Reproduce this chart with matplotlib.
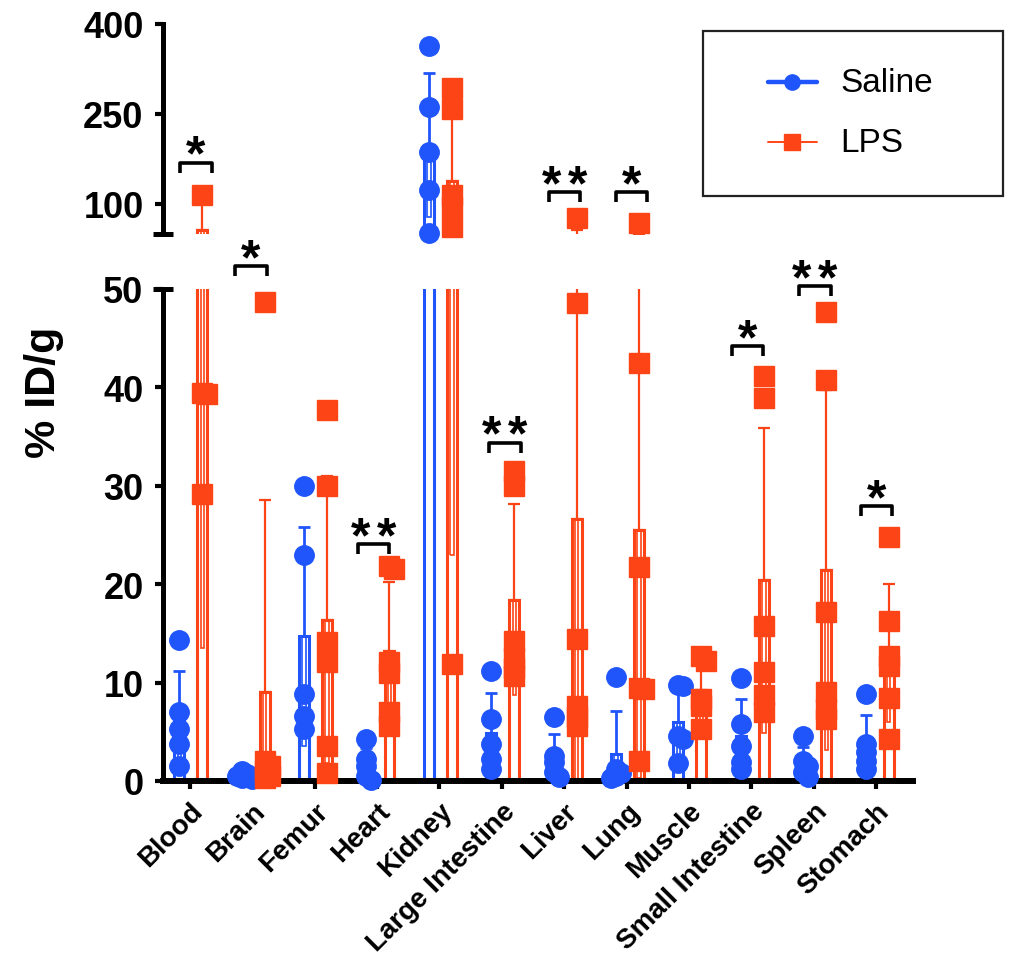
import numpy as np
import matplotlib
matplotlib.use('Agg')
import matplotlib.pyplot as plt
from matplotlib.patches import Rectangle
from matplotlib.lines import Line2D

plt.rcParams['font.family'] = ['Liberation Sans', 'DejaVu Sans']

# ---------------- data ----------------
categories = ['Blood', 'Brain', 'Femur', 'Heart', 'Kidney', 'Large Intestine',
              'Liver', 'Lung', 'Muscle', 'Small Intestine', 'Spleen', 'Stomach']

saline_points = [
    [14.3, 7.0, 5.3, 3.8, 1.5],
    [1.0, 0.7, 0.5, 0.3, 0.2],
    [30.0, 23.0, 8.8, 6.6, 5.3],
    [4.3, 2.2, 1.5, 0.5, 0.1],
    [363, 262, 187, 124, 52],
    [11.2, 6.3, 3.8, 2.2, 1.2],
    [6.5, 2.5, 1.9, 0.9, 0.4],
    [10.6, 1.2, 0.8, 0.5, 0.3],
    [9.8, 9.7, 4.6, 4.3, 1.8],
    [10.5, 5.8, 3.6, 1.9, 1.2],
    [4.6, 2.0, 1.5, 0.9, 0.4],
    [8.8, 3.8, 2.9, 2.0, 1.2],
]
lps_points = [
    [115, 39.4, 39.3, 29.2],
    [48.7, 2.0, 1.5, 1.0, 0.5, 0.3],
    [37.7, 30.0, 14.1, 12.1, 3.6, 0.8],
    [21.8, 21.5, 12.1, 11.0, 7.0, 5.6],
    [294, 259, 115, 95, 62, 11.9],
    [31.5, 30.0, 14.2, 12.5, 11.5, 10.7],
    [77, 48.6, 14.4, 7.6, 6.5, 5.6],
    [68, 42.5, 21.7, 9.5, 9.3, 2.0],
    [12.7, 12.2, 8.3, 7.6, 5.3],
    [41.2, 38.9, 15.8, 11.1, 8.7, 7.0],
    [47.7, 40.8, 17.2, 9.0, 7.3, 6.3],
    [24.8, 16.3, 12.7, 11.7, 8.4, 4.3],
]
saline_mean = [6.4, 0.5, 14.7, 1.7, 198, 4.9, 2.4, 2.7, 6.0, 4.6, 1.9, 3.7]
saline_sd = [4.8, 0.3, 11.1, 1.7, 120, 4.0, 2.4, 4.4, 3.6, 3.7, 1.6, 3.0]
lps_mean = [57, 9.0, 16.4, 13.2, 139, 18.4, 26.6, 25.5, 9.2, 20.4, 21.4, 13.0]
lps_sd = [43.5, 19.6, 14.6, 7.0, 116, 9.7, 29.5, 25.2, 3.2, 15.5, 18.3, 7.05]
significance = ['*', '*', '', '**', '', '**', '**', '*', '', '*', '**', '*']

series_names = ['Saline', 'LPS']

# ---------------- layout / style ----------------
W, H = 1017, 962
BLUE = '#1f55fb'
RED = '#fd4416'
fig = plt.figure(figsize=(W / 100, H / 100), dpi=100)

left = 163 / W
right = 913 / W
ax_top = fig.add_axes([left, 1 - 235 / H, right - left, (235 - 25) / H])
ax_bot = fig.add_axes([left, 1 - 782 / H, right - left, (782 - 290) / H])

n = len(categories)
x = np.arange(n)
xlim = (-0.43, n - 1 + 0.59)
for ax in (ax_top, ax_bot):
    ax.set_xlim(*xlim)
ax_top.set_ylim(50, 400)
ax_bot.set_ylim(0, 50)

bw = 0.16      # bar width
iw = 0.055     # inner error rectangle width
offsets = [-0.17, 0.2]
colors = [BLUE, RED]
markers = ['o', 's']
msizes = [14, 14]
err_lw = [2.0, 1.6]
groups = [(saline_points, saline_mean, saline_sd), (lps_points, lps_mean, lps_sd)]


def swarm_offsets(ax, vals, min_d=5.0, step=5.0):
    """Horizontal pixel offsets so that near-identical values sit side by side."""
    pv = [ax.transData.transform((0, v))[1] for v in vals]
    placed, offs = [], []
    for p in pv:
        chosen = 0.0
        for cand in (0.0, step, -step, 2 * step, -2 * step):
            if all((cand - po) ** 2 + (p - pp) ** 2 >= min_d ** 2 for po, pp in placed):
                chosen = cand
                break
        placed.append((chosen, p))
        offs.append(chosen)
    px_per_unit = ax.transData.transform((1, 0))[0] - ax.transData.transform((0, 0))[0]
    return [o / px_per_unit for o in offs]


for ax, (ylo, yhi) in ((ax_top, (50, 400)), (ax_bot, (0, 50))):
    for s, (pts_all, means, sds) in enumerate(groups):
        c = colors[s]
        xs = x + offsets[s]
        ax.bar(xs, means, width=bw, fill=False, edgecolor=c, linewidth=2.2, zorder=2)
        ax.errorbar(xs, means, yerr=[np.zeros(n), sds], fmt='none', ecolor=c,
                    elinewidth=err_lw[s], capsize=4, capthick=err_lw[s], zorder=2)
        for i in range(n):
            lo = max(means[i] - sds[i], 0)
            ax.add_patch(Rectangle((xs[i] - iw / 2, lo), iw, means[i] - lo, fill=False,
                                   edgecolor=c, linewidth=1.2, zorder=2))
            pts = [p for p in pts_all[i] if ylo <= p <= yhi]
            if pts:
                dxs = swarm_offsets(ax, pts)
                ax.plot([xs[i] + d for d in dxs], pts, linestyle='none', marker=markers[s],
                        ms=msizes[s], color=c, mec=c, zorder=4, clip_on=False)

# ---------------- axes styling ----------------
for ax in (ax_top, ax_bot):
    ax.spines['right'].set_visible(False)
    ax.spines['top'].set_visible(False)
    ax.spines['left'].set_linewidth(3.6)
    ax.spines['left'].set_capstyle('projecting')
    ax.tick_params(axis='y', direction='out', length=6, width=3, labelsize=26, pad=8)
    ax.set_facecolor('none')

ax_top.spines['bottom'].set_visible(False)
ax_top.set_xticks([])
ax_top.set_yticks([100, 250, 400])
ax_top.set_yticklabels(['100', '250', '400'], fontweight='bold', fontsize=26)

ax_bot.spines['bottom'].set_linewidth(4.3)
ax_bot.spines['bottom'].set_capstyle('projecting')
ax_bot.set_yticks([0, 10, 20, 30, 40, 50])
ax_bot.set_yticklabels(['0', '10', '20', '30', '40', '50'], fontweight='bold', fontsize=26)
ax_bot.set_xticks(x)
ax_bot.set_xticklabels(categories, rotation=45, ha='right', rotation_mode='anchor',
                       fontsize=20, fontweight='bold')
ax_bot.tick_params(axis='x', direction='out', length=6, width=3, pad=6)

# axis break marks
ax_top.plot([0], [0], marker='_', ms=15, mew=3.6, color='k', transform=ax_top.transAxes, clip_on=False)
ax_bot.plot([0], [1], marker='_', ms=15, mew=3.6, color='k', transform=ax_bot.transAxes, clip_on=False)

fig.text(44 / W, 1 - 392 / H, '% ID/g', rotation=90, fontsize=31, fontweight='bold',
         ha='center', va='center')

# ---------------- significance brackets ----------------
bracket_pos = {0: ('top', 169, 0.10), 1: ('bot', 52.3, -0.02), 3: ('bot', 24.1, -0.05),
               5: ('bot', 34.4, 0.05), 6: ('top', 120, 0.0), 7: ('top', 120, 0.08),
               9: ('bot', 44.2, -0.06), 10: ('bot', 50.3, 0.02), 11: ('bot', 27.9, 0.0)}
for i, (panel, yb, shift) in bracket_pos.items():
    ax = ax_top if panel == 'top' else ax_bot
    p0 = ax.transData.transform((0, yb))
    yd = ax.transData.inverted().transform((p0[0], p0[1] - 10))[1]
    xc = i + shift
    x0, x1 = xc - 0.25, xc + 0.25
    ax.plot([x0, x0, x1, x1], [yd, yb, yb, yd], color='k', lw=2.6,
            solid_joinstyle='round', solid_capstyle='butt', clip_on=False, zorder=5)
    lab = significance[i]
    k = len(lab)
    for j in range(k):
        dx = (j - (k - 1) / 2) * 26
        ax.annotate('*', xy=(xc, yb), xytext=(dx, -7), textcoords='offset pixels',
                    ha='center', va='baseline', fontsize=36, fontweight='bold',
                    annotation_clip=False, zorder=6)

# ---------------- legend (drawn manually) ----------------
fig.add_artist(Rectangle((703 / W, 1 - 197 / H), 300 / W, 165 / H, transform=fig.transFigure,
                         fill=False, edgecolor='#222222', linewidth=1.6))
leg_y = [83, 143]
leg_lw = [3.2, 1.4]
for s in range(2):
    yy = 1 - leg_y[s] / H
    fig.add_artist(Line2D([768 / W, 817 / W], [yy, yy], color=colors[s], lw=leg_lw[s],
                          solid_capstyle='round', transform=fig.transFigure))
    fig.add_artist(Line2D([792 / W], [yy], color=colors[s], marker=markers[s], ms=11,
                          linestyle='none', transform=fig.transFigure))
    fig.text(840 / W, yy, series_names[s], fontsize=24, ha='left', va='center')

fig.savefig('out.png', dpi=100)
